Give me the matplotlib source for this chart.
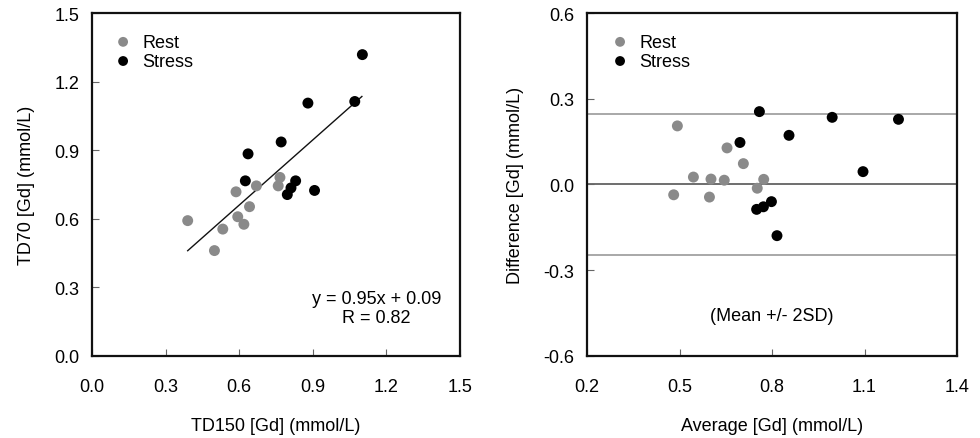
import numpy as np
import matplotlib
matplotlib.use("Agg")
import matplotlib.pyplot as plt
from matplotlib.ticker import FormatStrFormatter

plt.rcParams["font.family"] = ["Liberation Sans", "DejaVu Sans"]

# --- TD150 vs TD70 (mmol/L) ---
rest_td150 = [0.390, 0.499, 0.533, 0.587, 0.594, 0.619, 0.642, 0.670, 0.766, 0.759]
rest_td70 = [0.592, 0.461, 0.555, 0.718, 0.609, 0.576, 0.653, 0.744, 0.781, 0.744]
stress_td150 = [1.102, 0.880, 1.071, 0.771, 0.636, 0.625, 0.830, 0.811, 0.796, 0.907]
stress_td70 = [1.318, 1.106, 1.113, 0.936, 0.884, 0.766, 0.766, 0.735, 0.706, 0.724]
fit_slope, fit_icpt, fit_r = 0.95, 0.09, 0.82
fit_range = [0.39, 1.10]

# --- Bland-Altman: average vs difference ---
rest_avg = [0.493, 0.654, 0.707, 0.545, 0.602, 0.645, 0.773, 0.752, 0.481, 0.597]
rest_diff = [0.205, 0.128, 0.073, 0.026, 0.019, 0.015, 0.018, -0.013, -0.036, -0.044]
stress_avg = [0.759, 0.995, 1.210, 0.855, 0.696, 1.095, 0.798, 0.772, 0.750, 0.816]
stress_diff = [0.255, 0.235, 0.228, 0.172, 0.147, 0.045, -0.060, -0.078, -0.087, -0.179]
diff_mean, diff_upper, diff_lower = 0.0, 0.245, -0.246

GREY = "#8a8a8a"
BLACK = "#000000"
FS = 13
MS = 62

fig = plt.figure(figsize=(9.8, 4.39), dpi=100)
axA = fig.add_axes([0.0939, 0.1868, 0.3755, 0.7813])
axB = fig.add_axes([0.599, 0.1868, 0.3776, 0.7813])

def style(ax):
    for sp in ax.spines.values():
        sp.set_linewidth(1.6)
        sp.set_color("#111111")
    ax.tick_params(direction="in", length=5, width=0.8, color="#666666",
                   labelsize=FS, top=False, right=False)
    ax.tick_params(axis="x", pad=16)
    ax.tick_params(axis="y", pad=9)
    ax.xaxis.set_major_formatter(FormatStrFormatter("%.1f"))
    ax.yaxis.set_major_formatter(FormatStrFormatter("%.1f"))

def legend(ax, x0):
    ax.legend(loc="upper left", frameon=False, fontsize=FS, handletextpad=0.45,
              labelspacing=0.12, borderaxespad=0.0, borderpad=0.0, scatterpoints=1,
              handlelength=1.2, markerscale=0.9, bbox_to_anchor=(x0, 0.94))

# left: scatter with regression line
axA.scatter(rest_td150, rest_td70, s=MS, color=GREY, edgecolors="none", label="Rest", zorder=3)
axA.scatter(stress_td150, stress_td70, s=MS, color=BLACK, edgecolors="none", label="Stress", zorder=3)
xf = np.array(fit_range)
axA.plot(xf, fit_slope * xf + fit_icpt, color="#111111", lw=1.0, zorder=2)
axA.set_xlim(0, 1.5); axA.set_ylim(0, 1.5)
axA.set_xticks(np.arange(0, 1.51, 0.3)); axA.set_yticks(np.arange(0, 1.51, 0.3))
axA.set_xlabel("TD150 [Gd] (mmol/L)", fontsize=FS, labelpad=16)
axA.set_ylabel("TD70 [Gd] (mmol/L)", fontsize=FS, labelpad=14)
axA.text(1.16, 0.21, f"y = {fit_slope:.2f}x + {fit_icpt:.2f}\nR = {fit_r:.2f}",
         ha="center", va="center", fontsize=FS, linespacing=1.2)
style(axA)
legend(axA, 0.055)

# right: Bland-Altman with mean +/- 2SD lines
axB.axhline(diff_upper, color="#9a9a9a", lw=1.2, zorder=1)
axB.axhline(diff_mean, color="#555555", lw=1.2, zorder=1)
axB.axhline(diff_lower, color="#9a9a9a", lw=1.2, zorder=1)
axB.scatter(rest_avg, rest_diff, s=MS, color=GREY, edgecolors="none", label="Rest", zorder=3)
axB.scatter(stress_avg, stress_diff, s=MS, color=BLACK, edgecolors="none", label="Stress", zorder=3)
axB.set_xlim(0.2, 1.4); axB.set_ylim(-0.6, 0.6)
axB.set_xticks(np.arange(0.2, 1.41, 0.3)); axB.set_yticks(np.arange(-0.6, 0.61, 0.3))
axB.set_xlabel("Average [Gd] (mmol/L)", fontsize=FS, labelpad=16)
axB.set_ylabel("Difference [Gd] (mmol/L)", fontsize=FS, labelpad=14)
axB.text(0.80, -0.46, "(Mean +/- 2SD)", ha="center", va="center", fontsize=FS)
style(axB)
legend(axB, 0.06)

fig.savefig("out.png", dpi=100)
